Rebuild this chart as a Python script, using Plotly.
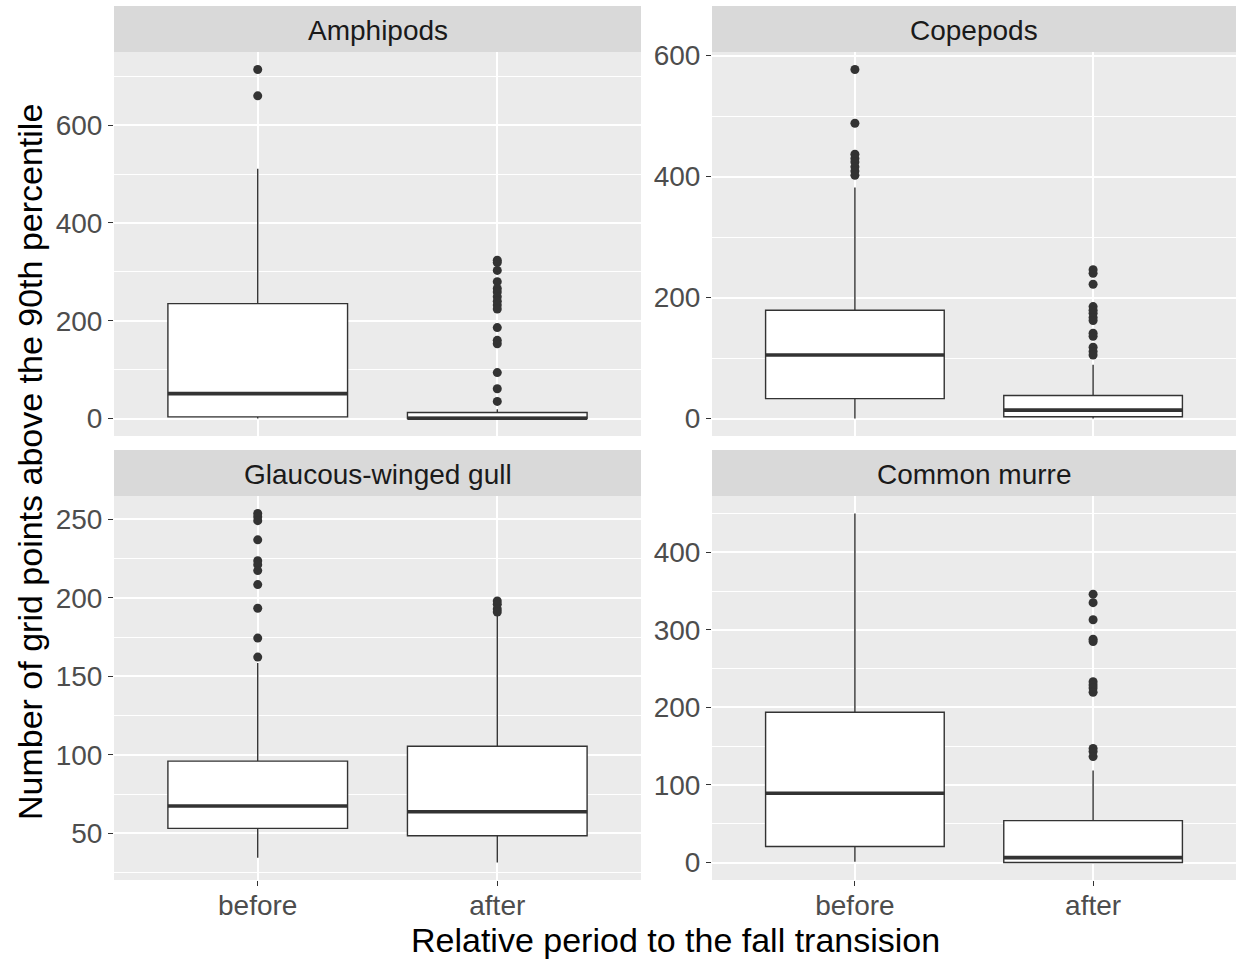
import plotly.graph_objects as go

W, H = 1238, 961

periods = ["before", "after"]
panels = ["Amphipods", "Copepods", "Glaucous-winged gull", "Common murre"]

# box statistics per panel: [before, after]
amph_low = [0, 0]
amph_q1 = [3.5, 0]
amph_med = [51, 0.5]
amph_q3 = [235, 12.5]
amph_up = [511, 19]
amph_out_before = [714, 660]
amph_out_after = [324, 319, 303, 280, 266, 259, 249, 240, 232, 224, 186, 160, 153, 94, 61, 35]

cope_low = [0, 0]
cope_q1 = [33, 3]
cope_med = [105, 14]
cope_q3 = [179, 38]
cope_up = [382, 89]
cope_out_before = [577, 488, 437, 430, 424, 416, 409, 402]
cope_out_after = [246, 240, 222, 185, 179, 174, 167, 162, 141, 136, 118, 111, 105]

gull_low = [34.5, 31.4]
gull_q1 = [53.2, 48.5]
gull_med = [67.4, 63.8]
gull_q3 = [96, 105.5]
gull_up = [158.5, 189]
gull_out_before = [253.8, 251.7, 249.2, 237, 223.7, 221.2, 217.4, 208.5, 193.4, 174.4, 162.3]
gull_out_after = [198, 196, 193, 191]

murre_low = [1, 0]
murre_q1 = [20.6, 0]
murre_med = [89.4, 6.4]
murre_q3 = [193.8, 54]
murre_up = [450, 118.6]
murre_out_before = []
murre_out_after = [346, 335, 313, 288, 285, 233, 229, 225, 219.5, 147, 143, 136.6]

major_dticks = [200, 200, 50, 100]

data = [
    (amph_low, amph_q1, amph_med, amph_q3, amph_up, amph_out_before, amph_out_after),
    (cope_low, cope_q1, cope_med, cope_q3, cope_up, cope_out_before, cope_out_after),
    (gull_low, gull_q1, gull_med, gull_q3, gull_up, gull_out_before, gull_out_after),
    (murre_low, murre_q1, murre_med, murre_q3, murre_up, murre_out_before, murre_out_after),
]

FONT = "Liberation Sans, Arial, sans-serif"
DARK = "#333333"

# panel pixel geometry (left, right, top, bottom) and strip top
geo = [
    (114, 641, 52, 436, 6),
    (712, 1236, 52, 436, 6),
    (114, 641, 496, 880, 450),
    (712, 1236, 496, 880, 450),
]

fig = go.Figure()
layout = dict(
    width=W, height=H,
    margin=dict(l=0, r=0, t=0, b=0, autoexpand=False),
    paper_bgcolor="white",
    plot_bgcolor="#EBEBEB",
    showlegend=False,
    boxmode="overlay",
    font=dict(family=FONT),
)
shapes = []
annotations = []

for i, (name, d, (l, r, t, b, st)) in enumerate(zip(panels, data, geo)):
    low, q1, med, q3, up, ob, oa = d
    n = "" if i == 0 else str(i + 1)
    xa, ya = "x" + n, "y" + n
    # box
    fig.add_trace(go.Box(
        x=periods, q1=q1, median=med, q3=q3, lowerfence=low, upperfence=up,
        width=0.75, whiskerwidth=0, fillcolor="white", line=dict(color=DARK, width=1.4),
        boxpoints=False, xaxis=xa, yaxis=ya, hoverinfo="skip",
    ))
    # thick median line
    fig.add_trace(go.Box(
        x=periods, q1=med, median=med, q3=med, lowerfence=med, upperfence=med,
        width=0.75, whiskerwidth=0, fillcolor="rgba(0,0,0,0)", line=dict(color=DARK, width=3.6),
        boxpoints=False, xaxis=xa, yaxis=ya, hoverinfo="skip",
    ))
    # outliers
    fig.add_trace(go.Scatter(
        x=[periods[0]] * len(ob) + [periods[1]] * len(oa), y=ob + oa,
        mode="markers", marker=dict(color=DARK, size=9),
        xaxis=xa, yaxis=ya, hoverinfo="skip",
    ))
    allv = low + q1 + med + q3 + up + ob + oa
    lo, hi = min(allv), max(allv)
    pad = (hi - lo) * 0.05
    dt = major_dticks[i]
    bottom_row = i >= 2
    layout["xaxis" + n] = dict(
        domain=[l / W, r / W], anchor=ya, type="category", automargin=False,
        categoryorder="array", categoryarray=periods, range=[-0.6, 1.6],
        showgrid=True, gridcolor="white", gridwidth=2, zeroline=False,
        showline=False,
        showticklabels=bottom_row, ticks="outside" if bottom_row else "",
        ticklen=5, tickwidth=1, tickcolor=DARK, ticklabelstandoff=-5,
        tickfont=dict(size=28, color="#4D4D4D", family=FONT),
    )
    layout["yaxis" + n] = dict(
        domain=[1 - b / H, 1 - t / H], anchor=xa, automargin=False,
        range=[lo - pad, hi + pad], tick0=0, dtick=dt,
        showgrid=True, gridcolor="white", gridwidth=2, zeroline=False,
        showline=False, ticks="outside", ticklen=5, tickwidth=1, tickcolor=DARK,
        tickfont=dict(size=28, color="#4D4D4D", family=FONT),
        minor=dict(tick0=0, dtick=dt / 2, showgrid=True, gridcolor="white", gridwidth=1),
    )
    shapes.append(dict(type="rect", xref="paper", yref="paper",
                       x0=l / W, x1=r / W, y0=1 - t / H, y1=1 - st / H,
                       fillcolor="#D9D9D9", line=dict(width=0), layer="below"))
    annotations.append(dict(text=name, xref="paper", yref="paper",
                            x=(l + r) / 2 / W, y=1 - (t + st + 3) / 2 / H,
                            xanchor="center", yanchor="middle", showarrow=False,
                            font=dict(size=28, color="#1A1A1A", family=FONT)))

annotations.append(dict(text="Relative period to the fall transision", xref="paper", yref="paper",
                        x=(114 + 1236) / 2 / W, y=1 - 940 / H, xanchor="center", yanchor="middle",
                        showarrow=False, font=dict(size=34, color="black", family=FONT)))
annotations.append(dict(text="Number of grid points above the 90th percentile", xref="paper", yref="paper",
                        x=30 / W, y=1 - 462 / H, xanchor="center", yanchor="middle", textangle=-90,
                        showarrow=False, font=dict(size=34, color="black", family=FONT)))

layout["shapes"] = shapes
layout["annotations"] = annotations
fig.update_layout(**layout)
fig.write_html("out.html")
